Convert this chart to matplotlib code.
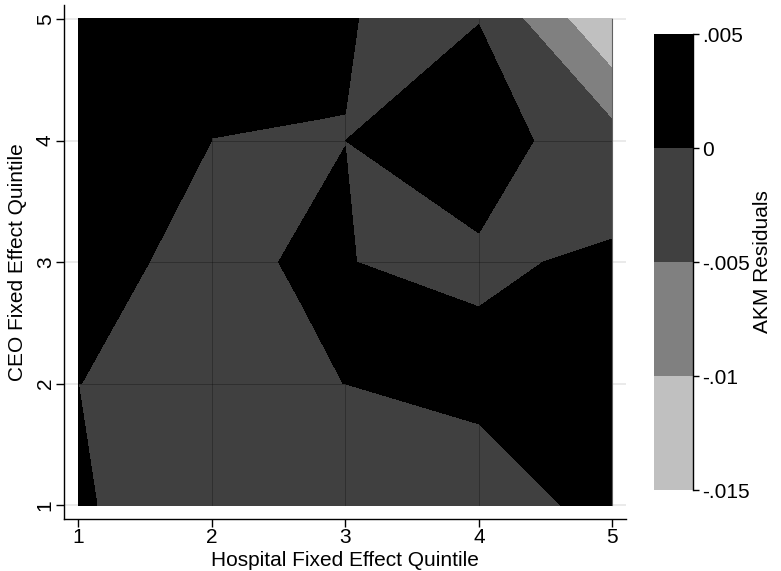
import matplotlib
matplotlib.use("Agg")
import matplotlib.pyplot as plt
import matplotlib.tri as mtri
from matplotlib.colors import ListedColormap, BoundaryNorm
from matplotlib.cm import ScalarMappable

# quintiles on both axes
hosp_q = [1, 2, 3, 4, 5]
ceo_q = [1, 2, 3, 4, 5]

# mean AKM residual, one list per CEO quintile (hospital quintile 1..5)
resid_ceo1 = [5.0e-4, -3.07e-3, -3.14e-3, -2.25e-3, 1.44e-3]
resid_ceo2 = [3.0e-6, -1.2e-4, 2.0e-6, 1.11e-3, 1.5e-3]
resid_ceo3 = [6.8e-5, -6.0e-5, 6.0e-5, -6.5e-4, 7.0e-4]
resid_ceo4 = [8.0e-4, -3.0e-7, -3.1e-6, 2.06e-3, -2.97e-3]
resid_ceo5 = [1.0e-3, 1.41e-5, 1.1e-5, -1.0e-4, -1.49e-2]

levels = [-0.015, -0.01, -0.005, 0, 0.005]
level_labels = ["-.015", "-.01", "-.005", "0", ".005"]
band_colors = ["#c0c0c0", "#808080", "#404040", "#000000"]

# split direction of each grid cell (rows = CEO quintile 1-2 .. 4-5)
cell_split = ["\\\\\\\\", "//\\/", "//\\/", "/\\/\\"]

plt.rcParams["font.family"] = ["Liberation Sans", "DejaVu Sans"]
plt.rcParams["font.size"] = 15

xs, ys, zs = [], [], []
for j, row in enumerate([resid_ceo1, resid_ceo2, resid_ceo3, resid_ceo4, resid_ceo5]):
    for i, v in enumerate(row):
        xs.append(hosp_q[i]); ys.append(ceo_q[j]); zs.append(v)

n = len(hosp_q)
triangles = []
for j in range(len(ceo_q) - 1):
    for i in range(n - 1):
        a, b = j * n + i, j * n + i + 1
        c, d = (j + 1) * n + i, (j + 1) * n + i + 1
        if cell_split[j][i] == "/":
            triangles += [[a, b, d], [a, d, c]]
        else:
            triangles += [[a, b, c], [b, d, c]]
tri = mtri.Triangulation(xs, ys, triangles)

fig = plt.figure(figsize=(7.81, 5.71), dpi=100)
ax = fig.add_axes([64.3 / 781, 52 / 571, 561.4 / 781, 514 / 571])

cmap = ListedColormap(band_colors)
norm = BoundaryNorm(levels, cmap.N)
ax.tricontourf(tri, zs, levels=levels, colors=band_colors, zorder=2)

# faint cell seams like the original renderer
for v in hosp_q[1:-1]:
    ax.plot([v, v], [ceo_q[0], ceo_q[-1]], color="k", alpha=0.3, lw=0.6, zorder=3)
for v in ceo_q[1:-1]:
    ax.plot([hosp_q[0], hosp_q[-1]], [v, v], color="k", alpha=0.3, lw=0.6, zorder=3)
ax.plot([hosp_q[-1]] * 2, [ceo_q[0], ceo_q[-1]], color="#606060", lw=0.8, zorder=3)

ax.set_xlim(0.895, 5.100)
ax.set_ylim(0.887, 5.115)
ax.set_xticks(hosp_q)
ax.set_yticks(ceo_q)
ax.yaxis.grid(True, color="#e6e6e6", lw=1.2)
ax.set_axisbelow(True)
for s in ("top", "right"):
    ax.spines[s].set_visible(False)
for s in ("left", "bottom"):
    ax.spines[s].set_linewidth(1.0)
ax.tick_params(length=5.8, width=1.0, pad=1)
plt.setp(ax.get_yticklabels(), rotation=90, va="center")

fig.text(345 / 781, 1 - 560 / 571, "Hospital Fixed Effect Quintile",
         ha="center", va="center")
fig.text(18 / 781, 1 - 262 / 571, "CEO Fixed Effect Quintile",
         ha="center", va="center", rotation=90)

cax = fig.add_axes([654 / 781, 81 / 571, 39 / 781, 456 / 571])
sm = ScalarMappable(norm=norm, cmap=cmap)
cb = fig.colorbar(sm, cax=cax, ticks=levels)
cb.ax.set_yticklabels(level_labels)
cb.outline.set_visible(False)
cax.plot([1, 1], [0, 1], transform=cax.transAxes, color="k", lw=1.0, clip_on=False)
cax.tick_params(length=4.3, width=1.0, pad=2)
fig.text(763 / 781, 1 - 262 / 571, "AKM Residuals", ha="center", va="center",
         rotation=90)

fig.savefig("out.png", dpi=100)
